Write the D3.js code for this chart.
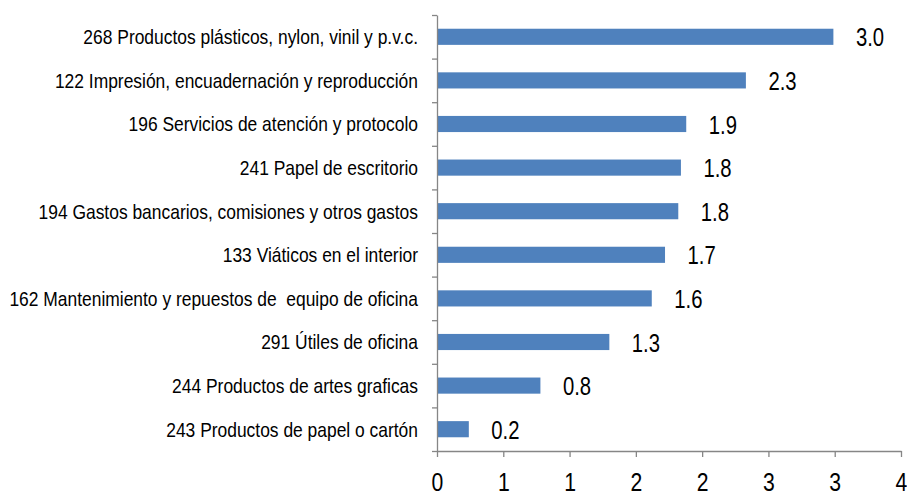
<!DOCTYPE html>
<html>
<head>
<meta charset="utf-8">
<script src="https://cdn.jsdelivr.net/npm/d3@7"></script>
<style>
  html, body { margin: 0; padding: 0; background: #ffffff; }
  svg { display: block; }
  text { font-family: "Liberation Sans", Arial, sans-serif; fill: #000; white-space: pre; }
</style>
</head>
<body>
<svg id="chart" width="907" height="495"></svg>
<script>
const categories = [
  "268 Productos plásticos, nylon, vinil y p.v.c.",
  "122 Impresión, encuadernación y reproducción",
  "196 Servicios de atención y protocolo",
  "241 Papel de escritorio",
  "194 Gastos bancarios, comisiones y otros gastos",
  "133 Viáticos en el interior",
  "162 Mantenimiento y repuestos de  equipo de oficina",
  "291 Útiles de oficina",
  "244 Productos de artes graficas",
  "243 Productos de papel o cartón"
];
const values = [2.99, 2.33, 1.88, 1.84, 1.82, 1.72, 1.62, 1.30, 0.78, 0.24];
const xTickValues = [0, 0.5, 1, 1.5, 2, 2.5, 3, 3.5];

(function () {
const svg = d3.select("#chart");
const mLeft = 437, mRight = 901, mTop = 15, mBottom = 451;
const narrow = 0.85;

const x = d3.scaleLinear().domain([0, 3.5]).range([mLeft, mRight]);
const y = d3.scaleBand().domain(categories).range([mTop, mBottom])
  .paddingInner(0.63).paddingOuter(0.315);

// bars
svg.append("g").selectAll("rect")
  .data(categories)
  .join("rect")
  .attr("x", x(0))
  .attr("y", d => y(d))
  .attr("width", (d, i) => x(values[i]) - x(0))
  .attr("height", y.bandwidth())
  .attr("fill", "#4F81BD");

// value labels
const fmt = d3.format(".1f");
svg.append("g").selectAll("text")
  .data(categories)
  .join("text")
  .attr("transform", (d, i) => `translate(${x(values[i]) + 22.5},${y(d) + y.bandwidth() / 2 + 9.5}) scale(0.78,1)`)
  .attr("font-size", 26)
  .text((d, i) => fmt(values[i]));

// category labels
svg.append("g").selectAll("text")
  .data(categories)
  .join("text")
  .attr("transform", d => `translate(418,${y(d) + y.bandwidth() / 2 + 7.3}) scale(${narrow},1)`)
  .attr("text-anchor", "end")
  .attr("xml:space", "preserve")
  .attr("font-size", 20.5)
  .text(d => d);

// y axis (category boundaries)
const yb = d3.scaleLinear().domain([0, categories.length]).range([mTop, mBottom]);
const yAxis = svg.append("g")
  .attr("transform", `translate(${mLeft},0)`)
  .call(d3.axisLeft(yb).tickValues(d3.range(categories.length + 1)).tickSize(5).tickSizeOuter(0).tickFormat(""));
yAxis.selectAll("path, line").attr("stroke", "#868686").attr("stroke-width", 1.3);

// x axis
const xAxis = svg.append("g")
  .attr("transform", `translate(0,${mBottom})`)
  .call(d3.axisBottom(x).tickValues(xTickValues).tickSize(6).tickSizeOuter(0)
    .tickFormat(d => String(Math.round(d))));
xAxis.selectAll("path, line").attr("stroke", "#868686").attr("stroke-width", 1.3);
xAxis.selectAll("text")
  .attr("font-size", 26.5)
  .attr("y", 40.5)
  .attr("dy", 0)
  .attr("transform", "scale(0.8,1)")
  .attr("fill", "#000")
  .style("font-family", "\"Liberation Sans\", Arial, sans-serif");
})();
</script>
</body>
</html>
